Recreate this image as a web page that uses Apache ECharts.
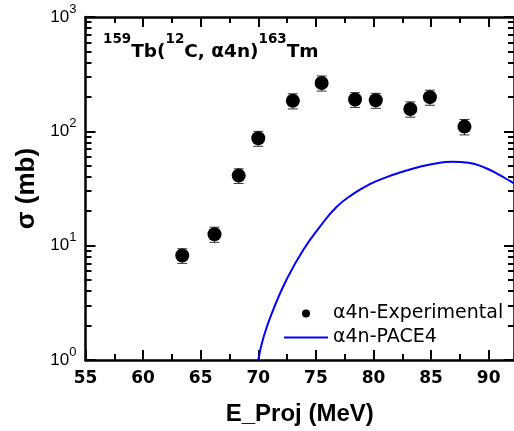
<!DOCTYPE html>
<html><head><meta charset="utf-8">
<script src="https://cdn.jsdelivr.net/npm/echarts@6/dist/echarts.min.js"></script>
<style>html,body{margin:0;padding:0;background:#fff}#c{width:514px;height:431px}</style>
</head><body><div id="c"></div>
<script>
var expEnergy = [63.4, 66.2, 68.3, 70.0, 73.0, 75.5, 78.4, 80.2, 83.2, 84.9, 87.9];
var expSigma  = [8.2, 12.6, 41, 87, 185, 265, 190, 187, 157, 199, 110];
var expError  = [1.2, 1.9, 6, 13, 28, 40, 28, 28, 24, 30, 17];
// PACE4 calculation
var paceEnergy = [70.0, 70.46, 71.32, 72.46, 73.90, 75.34, 76.77, 78.21, 79.64, 81.08, 82.51, 83.95, 85.38, 86.82, 88.26, 89.68, 90.84, 91.84, 92.2];
var paceSigma  = [1.0, 1.59, 2.79, 5.06, 9.18, 14.6, 21.7, 28.2, 34.3, 39.6, 44.3, 48.7, 52.3, 54.1, 53, 48, 42, 36.8, 35];
// Tick values
var xMajor = [55, 60, 65, 70, 75, 80, 85, 90];
var xMinor = [57.5, 62.5, 67.5, 72.5, 77.5, 82.5, 87.5];
var yMajor = [1, 10, 100, 1000];
var yMinor = [2,3,4,5,6,7,8,9,20,30,40,50,60,70,80,90,200,300,400,500,600,700,800,900];

var FONT = 'Liberation Sans, Arial, sans-serif';
var WIDE = 'DejaVu Sans, sans-serif';
var expData = expEnergy.map(function (x, i) { return [x, expSigma[i]]; });
var errData = expEnergy.map(function (x, i) { return [x, expSigma[i] - expError[i], expSigma[i] + expError[i]]; });
var paceData = paceEnergy.map(function (x, i) { return [x, paceSigma[i]]; });

function xAx(pos, vals, len, line, labels) {
  return {
    type: 'value', position: pos, min: 55, max: 92.2, interval: 5,
    axisLine: { show: line, onZero: false, lineStyle: { color: '#000', width: 2.5 } },
    axisTick: { show: true, inside: true, length: len, customValues: vals, lineStyle: { color: '#000', width: 2 } },
    axisLabel: labels ? { show: true, customValues: xMajor, color: '#000', fontFamily: WIDE, fontWeight: 'bold', fontSize: 17, margin: 10 } : { show: false },
    splitLine: { show: false }
  };
}
function yAx(pos, vals, len, line, labels) {
  var a = {
    type: 'log', logBase: 10, position: pos, min: 1, max: 1000,
    axisLine: { show: line, onZero: false, lineStyle: { color: '#000', width: 2.5 } },
    axisTick: { show: true, inside: true, length: len, customValues: vals, lineStyle: { color: '#000', width: 2 } },
    axisLabel: { show: false },
    splitLine: { show: false }
  };
  if (labels) {
    a.axisLabel = {
      show: true, customValues: yMajor, margin: 9, color: '#000',
      formatter: function (v) { return '{b|10}{s|' + Math.round(Math.log10(v)) + '}'; },
      rich: {
        b: { fontFamily: FONT, fontSize: 17, color: '#000', padding: [6, 0, 6, 0], verticalAlign: 'middle' },
        s: { fontFamily: FONT, fontSize: 13, color: '#000', verticalAlign: 'top' }
      }
    };
    a.name = 'σ (mb)';
    a.nameLocation = 'middle';
    a.nameGap = 46;
    a.nameTextStyle = { fontFamily: FONT, fontWeight: 'bold', fontSize: 26, color: '#000' };
  }
  return a;
}

var xBottom = xAx('bottom', xMajor, 10, true, true);
xBottom.name = 'E_Proj (MeV)';
xBottom.nameLocation = 'middle';
xBottom.nameGap = 42;
xBottom.nameTextStyle = { fontFamily: FONT, fontWeight: 'bold', fontSize: 24, color: '#000' };

var chart = echarts.init(document.getElementById('c'), null, { renderer: 'canvas' });
chart.setOption({
  backgroundColor: '#fff',
  animation: false,
  title: {
    left: 98, top: 27,
    text: '{s|159}{m|Tb(}{s|12}{m|C, α4n)}{s|163}{m|Tm}',
    textStyle: {
      rich: {
        m: { fontFamily: WIDE, fontWeight: 'bold', fontSize: 18.5, color: '#000', padding: [11, 0, 0, 0], verticalAlign: 'bottom' },
        s: { fontFamily: WIDE, fontWeight: 'bold', fontSize: 13.5, color: '#000', verticalAlign: 'top' }
      }
    }
  },
  grid: { left: 85.5, right: -3, top: 17, bottom: 66, containLabel: false },
  xAxis: [
    xBottom,
    xAx('bottom', xMinor, 6, false, false),
    xAx('top', xMajor, 10, true, false),
    xAx('top', xMinor, 6, false, false)
  ],
  yAxis: [
    yAx('left', yMajor, 10, true, true),
    yAx('left', yMinor, 6, false, false),
    yAx('right', yMajor, 10, true, false),
    yAx('right', yMinor, 6, false, false)
  ],
  legend: {
    orient: 'vertical', left: 279, top: 299,
    itemWidth: 44, itemHeight: 8, itemGap: 5,
    textStyle: { fontFamily: WIDE, fontSize: 19, color: '#000' },
    data: [
      { name: 'α4n-Experimental', icon: 'circle' },
      { name: 'α4n-PACE4', icon: 'path://M0,0H44V2H0Z' }
    ]
  },
  series: [
    {
      type: 'custom', name: 'err', xAxisIndex: 0, yAxisIndex: 0, z: 2,
      data: errData,
      renderItem: function (params, api) {
        var lo = api.coord([api.value(0), api.value(1)]);
        var hi = api.coord([api.value(0), api.value(2)]);
        var w = 5;
        return {
          type: 'group',
          children: [
            { type: 'line', shape: { x1: lo[0], y1: lo[1], x2: hi[0], y2: hi[1] }, style: { stroke: '#333', lineWidth: 1 } },
            { type: 'line', shape: { x1: lo[0] - w, y1: lo[1], x2: lo[0] + w, y2: lo[1] }, style: { stroke: '#333', lineWidth: 1 } },
            { type: 'line', shape: { x1: hi[0] - w, y1: hi[1], x2: hi[0] + w, y2: hi[1] }, style: { stroke: '#333', lineWidth: 1 } }
          ]
        };
      }
    },
    {
      type: 'scatter', name: 'α4n-Experimental', xAxisIndex: 0, yAxisIndex: 0, z: 3,
      symbol: 'circle', symbolSize: 14, itemStyle: { color: '#000', opacity: 1 },
      data: expData
    },
    {
      type: 'line', name: 'α4n-PACE4', xAxisIndex: 0, yAxisIndex: 0, z: 4,
      smooth: 0.5, symbol: 'none', showSymbol: false, clip: true,
      lineStyle: { color: '#0000ff', width: 2 }, itemStyle: { color: '#0000ff' },
      data: paceData
    }
  ]
});
</script></body></html>
